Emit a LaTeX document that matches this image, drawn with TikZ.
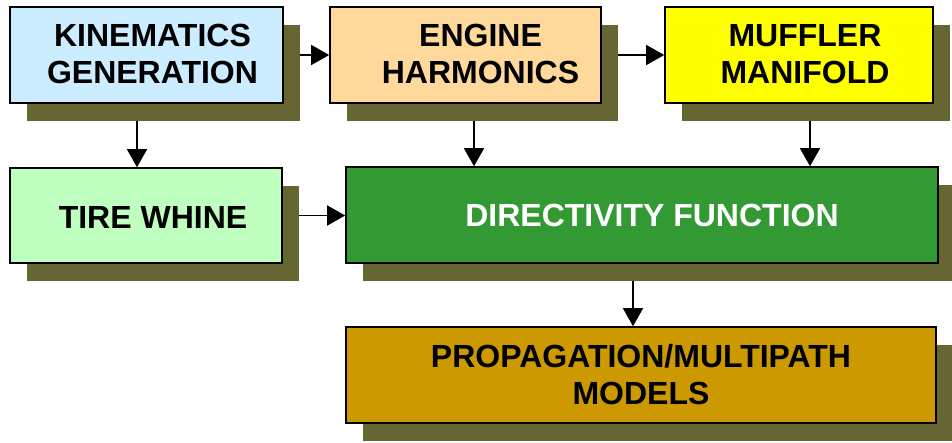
\documentclass[tikz,border=0pt]{standalone}
\usepackage{fontspec}
\setmainfont{Liberation Sans}
\usetikzlibrary{arrows.meta,shadows}
\pgfdeclarelayer{background}
\pgfsetlayers{background,main}
\definecolor{shadowc}{HTML}{666633}
\definecolor{kinc}{HTML}{CCECFF}
\definecolor{engc}{HTML}{FFD99B}
\definecolor{mufc}{HTML}{FFFF00}
\definecolor{tirec}{HTML}{BFFFBF}
\definecolor{dirc}{HTML}{339933}
\definecolor{propc}{HTML}{CC9900}
\tikzset{
  box/.style={draw=black, line width=1.6pt, inner sep=0pt,
    general shadow={fill=shadowc, shadow xshift=17pt, shadow yshift=-18pt}},
  txt/.style={font=\fontsize{32}{37}\selectfont\bfseries, align=center, inner sep=0pt},
  arr/.style={line width=1.5pt, -{Triangle[length=18pt,width=20pt]}}
}
\begin{document}
\begin{tikzpicture}[x=1pt,y=-1pt]
\useasboundingbox (0,0) rectangle (952,442);
\node[box, fill=kinc, minimum width=273pt, minimum height=96pt] (kin) at (146.5,55) {};
\node[box, fill=engc, minimum width=271pt, minimum height=96pt] (eng) at (465.5,55) {};
\node[box, fill=mufc, minimum width=268pt, minimum height=96pt] (muf) at (799,55) {};
\node[box, fill=tirec, minimum width=272pt, minimum height=95pt] (tire) at (146,215.5) {};
\node[box, fill=dirc, minimum width=592pt, minimum height=96pt] (dir) at (642,215) {};
\node[box, fill=propc, minimum width=590pt, minimum height=96pt] (prop) at (641,375) {};

\node[txt] (kint) at ([xshift=6pt,yshift=1pt]kin.center) {KINEMATICS\\GENERATION};
\node[txt] (engt) at ([xshift=15pt,yshift=1pt]eng.center) {ENGINE\\HARMONICS};
\node[txt] (muft) at ([xshift=6pt,yshift=1pt]muf.center) {MUFFLER\\MANIFOLD};
\node[txt] (tiret) at ([xshift=7pt,yshift=-2pt]tire.center) {TIRE WHINE};
\node[txt, text=white] (dirt) at ([xshift=10pt]dir.center) {DIRECTIVITY FUNCTION};
\node[txt] (propt) at (prop.center) {PROPAGATION/MULTIPATH\\MODELS};

\begin{pgfonlayer}{background}
\draw[arr] (kin.east) -- (eng.west);
\draw[arr] (eng.east) -- (muf.west);
\draw[arr] ([xshift=-9.5pt]kin.south) -- ([xshift=-9.5pt]kin.south |- tire.north);
\draw[arr] ([xshift=8.5pt]eng.south) -- ([xshift=8.5pt]eng.south |- dir.north);
\draw[arr] ([xshift=11pt]muf.south) -- ([xshift=11pt]muf.south |- dir.north);
\draw[arr] (tire.east) -- (tire.east -| dir.west);
\draw[arr] ([xshift=-9pt]dir.south) -- ([xshift=-9pt]dir.south |- prop.north);
\end{pgfonlayer}
\end{tikzpicture}
\end{document}
